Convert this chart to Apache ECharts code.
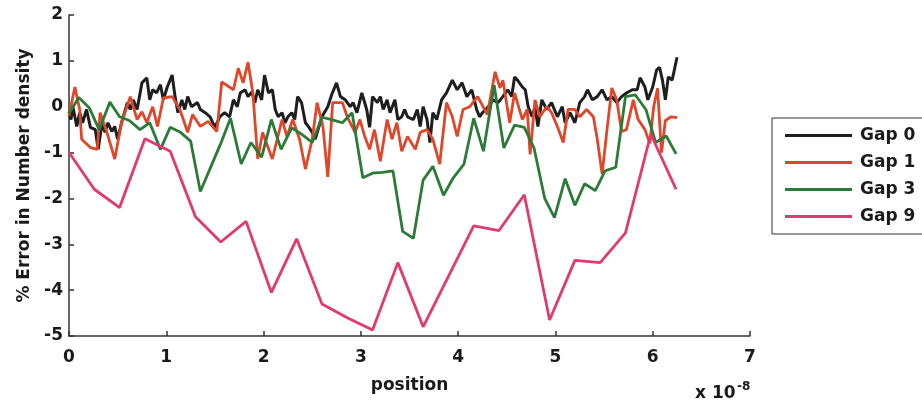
<!DOCTYPE html>
<html>
<head>
<meta charset="utf-8">
<script src="https://cdn.jsdelivr.net/npm/echarts@6/dist/echarts.min.js"></script>
<style>
  html, body { margin: 0; padding: 0; background: #fff; }
  #chart { width: 922px; height: 407px; }
</style>
</head>
<body>
<div id="chart"></div>
<script>
// positions in units of 1e-8
var gap0X = [0, 0.02, 0.04, 0.08, 0.11, 0.14, 0.18, 0.22, 0.27, 0.30,
  0.34, 0.37, 0.40, 0.44, 0.47, 0.50, 0.54, 0.60, 0.63, 0.66,
  0.70, 0.75, 0.80, 0.83, 0.86, 0.90, 0.94, 0.97, 1.01, 1.06,
  1.09, 1.12, 1.16, 1.19, 1.22, 1.26, 1.32, 1.35, 1.40, 1.45,
  1.50, 1.55, 1.60, 1.65, 1.69, 1.73, 1.76, 1.81, 1.84, 1.88,
  1.91, 1.94, 1.98, 2.01, 2.05, 2.09, 2.12, 2.15, 2.19, 2.22,
  2.25, 2.29, 2.32, 2.35, 2.39, 2.43, 2.46, 2.50, 2.53, 2.56,
  2.60, 2.66, 2.70, 2.75, 2.79, 2.84, 2.89, 2.92, 2.96, 3.01,
  3.06, 3.09, 3.12, 3.17, 3.20, 3.23, 3.27, 3.30, 3.35, 3.38,
  3.42, 3.45, 3.48, 3.54, 3.58, 3.61, 3.64, 3.68, 3.71, 3.74,
  3.78, 3.83, 3.88, 3.94, 3.99, 4.04, 4.09, 4.14, 4.19, 4.22,
  4.25, 4.31, 4.36, 4.41, 4.46, 4.51, 4.55, 4.58, 4.61, 4.66,
  4.69, 4.72, 4.76, 4.79, 4.82, 4.86, 4.91, 4.96, 5.02, 5.07,
  5.10, 5.15, 5.20, 5.25, 5.30, 5.33, 5.38, 5.43, 5.48, 5.53,
  5.58, 5.63, 5.68, 5.73, 5.79, 5.84, 5.87, 5.92, 5.95, 6.00,
  6.04, 6.07, 6.10, 6.13, 6.16, 6.20, 6.25];
var gap0Y = [-0.1, -0.28, 0, -0.43, -0.13, -0.35, -0.06, -0.45, -0.5, -0.93,
  -0.35, -0.56, -0.35, -0.54, -0.43, -0.71, -0.35, 0.09, -0.06, 0.15,
  -0.06, 0.52, 0.63, 0.15, 0.37, 0.30, 0.48, 0.15, 0.43, 0.69,
  0.22, -0.13, 0.15, -0.06, 0.22, 0, 0.09, -0.06, -0.13, -0.22,
  -0.45, -0.22, -0.13, -0.22, 0.15, 0, 0.30, 0.37, 0.22, 0.32,
  0.09, 0.37, 0.15, 0.69, 0.30, 0.37, -0.06, -0.22, -0.13, -0.35,
  -0.22, -0.13, -0.28, 0.22, 0.09, -0.35, -0.43, -0.56, -0.71, -0.50,
  -0.22, 0, 0.26, 0.52, 0.22, 0.15, 0, 0.09, -0.13, 0.30,
  -0.06, -0.45, 0.22, 0.09, 0.22, -0.06, 0.15, -0.13, 0.15, -0.28,
  -0.22, -0.06, -0.22, -0.28, -0.06, -0.43, 0, -0.28, -0.78, -0.13,
  -0.28, 0.15, 0.30, 0.58, 0.37, 0.52, 0.22, 0.37, -0.06, -0.22,
  -0.13, 0, 0.15, 0.09, 0.22, 0.37, 0.22, 0.65, 0.58, 0.43,
  0.37, 0, -0.22, 0, -0.43, 0.15, -0.06, 0.09, -0.22, 0,
  -0.35, -0.13, -0.35, 0.09, 0.22, 0.37, 0.15, 0.22, 0.37, 0.15,
  0.22, 0.09, 0.22, 0.30, 0.37, 0.37, 0.63, 0.43, 0.15, 0.43,
  0.80, 0.86, 0.58, 0.15, 0.65, 0.58, 1.08];

var gap1X = [0, 0.06, 0.11, 0.13, 0.22, 0.29, 0.32, 0.39, 0.47, 0.54,
  0.63, 0.70, 0.75, 0.80, 0.86, 0.91, 0.97, 1.06, 1.14, 1.22,
  1.27, 1.35, 1.43, 1.52, 1.57, 1.69, 1.74, 1.79, 1.84, 1.89,
  1.94, 1.99, 2.09, 2.14, 2.19, 2.24, 2.30, 2.37, 2.43, 2.50,
  2.55, 2.61, 2.66, 2.71, 2.81, 2.86, 2.94, 2.99, 3.04, 3.09,
  3.14, 3.20, 3.27, 3.32, 3.37, 3.42, 3.48, 3.56, 3.61, 3.68,
  3.74, 3.81, 3.88, 3.94, 3.99, 4.05, 4.12, 4.20, 4.30, 4.38,
  4.43, 4.46, 4.53, 4.58, 4.66, 4.71, 4.74, 4.79, 4.84, 4.91,
  4.96, 5.02, 5.08, 5.13, 5.20, 5.25, 5.32, 5.39, 5.43, 5.48,
  5.53, 5.58, 5.63, 5.68, 5.73, 5.80, 5.85, 5.92, 5.97, 6.01,
  6.05, 6.09, 6.13, 6.19, 6.25];
var gap1Y = [-0.2, 0.43, -0.06, -0.71, -0.89, -0.93, -0.13, -0.56, -1.14, -0.35,
  0.22, -0.28, -0.11, -0.35, 0, -0.43, 0.19, 0.22, -0.06, -0.56,
  -0.17, -0.43, -0.32, -0.54, 0.54, 0.37, 0.84, 0.52, 0.97, 0.30,
  -1.14, -0.56, -1.14, -0.71, -0.28, -0.65, -0.28, -0.71, -1.36, -0.71,
  0.09, -0.43, -1.53, 0.09, 0.09, -0.22, -0.56, -0.28, -0.65, -0.93,
  -0.50, -1.19, -0.28, -0.71, -0.35, -0.97, -0.65, -0.93, -0.56, -0.50,
  -0.71, -1.25, 0.09, -0.22, -0.65, -0.06, 0, 0.22, -0.17, 0.76,
  0.41, 0.58, -0.35, 0.30, -0.28, -0.06, -1.04, 0.15, -0.22, 0,
  -0.13, -0.43, -0.78, -0.06, -0.06, -0.22, -0.06, -0.22, -0.71, -1.47,
  -0.50, 0.41, 0.15, -0.54, -0.50, 0.15, -0.28, -0.50, -0.8, 0,
  0.4, -1.0, -0.3, -0.22, -0.24];

var gap3X = [0, 0.10, 0.21, 0.31, 0.42, 0.52, 0.62, 0.73, 0.83, 0.94,
  1.04, 1.14, 1.25, 1.35, 1.46, 1.56, 1.66, 1.77, 1.87, 1.98,
  2.08, 2.18, 2.29, 2.39, 2.50, 2.60, 2.70, 2.81, 2.91, 3.02,
  3.12, 3.22, 3.33, 3.43, 3.54, 3.64, 3.74, 3.85, 3.95, 4.06,
  4.16, 4.26, 4.37, 4.47, 4.58, 4.68, 4.78, 4.89, 4.99, 5.10,
  5.20, 5.30, 5.41, 5.51, 5.62, 5.72, 5.82, 5.93, 6.03, 6.14, 6.24];
var gap3Y = [-0.15, 0.2, -0.03, -0.5, 0.1, -0.22, -0.3, -0.5, -0.35, -0.93,
  -0.45, -0.55, -0.75, -1.85, -1.3, -0.8, -0.25, -1.25, -0.78, -1.1,
  -0.28, -0.93, -0.46, -0.6, -0.78, -0.23, -0.28, -0.35, -0.13, -1.55,
  -1.45, -1.43, -1.4, -2.72, -2.87, -1.6, -1.3, -1.93, -1.55, -1.25,
  -0.25, -0.97, 0.47, -0.9, -0.4, -0.45, -0.9, -2.0, -2.42, -1.57,
  -2.15, -1.68, -1.83, -1.4, -1.32, 0.22, 0.26, -0.06, -0.78, -0.64, -1.03];

var gap9X = [0, 0.26, 0.52, 0.78, 1.04, 1.30, 1.56, 1.82, 2.08, 2.34,
  2.60, 2.86, 3.12, 3.38, 3.64, 3.90, 4.16, 4.42, 4.68, 4.94,
  5.20, 5.46, 5.72, 5.98, 6.24];
var gap9Y = [-1.0, -1.8, -2.2, -0.7, -0.97, -2.4, -2.95, -2.5, -4.05, -2.88,
  -4.3, -4.6, -4.87, -3.4, -4.8, -3.7, -2.6, -2.7, -1.92, -4.65,
  -3.35, -3.4, -2.75, -0.6, -1.8];

var names = ["Gap 0", "Gap 1", "Gap 3", "Gap 9"];
var colors = ["#1e1e1e", "#e0472a", "#2c7a38", "#e23a6c"];

var FONT = "'DejaVu Sans', sans-serif";

function pairs(xs, ys) {
  return xs.map(function (x, i) { return [x, ys[i]]; });
}

var chart = echarts.init(document.getElementById("chart"));

var seriesData = [pairs(gap0X, gap0Y), pairs(gap1X, gap1Y), pairs(gap3X, gap3Y), pairs(gap9X, gap9Y)];
var series = [];
for (var i = 0; i < seriesData.length; i++) {
  series.push({
    name: names[i],
    type: "line",
    data: seriesData[i],
    symbol: "none",
    color: colors[i],
    lineStyle: { width: i === 0 ? 3 : 2.8, color: colors[i] },
    animation: false
  });
}

var axisText = { color: "#1a1a1a", fontFamily: FONT, fontWeight: "bold", fontSize: 17 };

chart.setOption({
  backgroundColor: "#fff",
  animation: false,
  grid: { left: 69, right: 172, top: 15, bottom: 71 },
  legend: {
    data: names,
    orient: "vertical",
    icon: "rect",
    left: 772,
    top: 118,
    padding: [9, 30, 9, 13],
    itemWidth: 67,
    itemHeight: 3,
    itemGap: 10,
    borderColor: "#333",
    borderWidth: 1,
    borderRadius: 0,
    textStyle: { color: "#1a1a1a", fontFamily: FONT, fontWeight: "bold", fontSize: 17, padding: [0, 0, 0, 3] }
  },
  xAxis: {
    type: "value",
    min: 0,
    max: 7,
    interval: 1,
    name: "position",
    nameLocation: "middle",
    nameGap: 41,
    nameTextStyle: axisText,
    axisLine: { show: true, onZero: false, lineStyle: { color: "#333", width: 1.5 } },
    axisTick: { show: true, inside: true, length: 5, lineStyle: { color: "#333", width: 1.5 } },
    axisLabel: { color: "#1a1a1a", fontFamily: FONT, fontWeight: "bold", fontSize: 17, margin: 13 },
    splitLine: { show: false }
  },
  yAxis: {
    type: "value",
    min: -5,
    max: 2,
    interval: 1,
    name: "% Error in Number density",
    nameLocation: "middle",
    nameRotate: 90,
    nameGap: 36,
    nameTextStyle: axisText,
    axisLine: { show: true, onZero: false, lineStyle: { color: "#333", width: 1.5 } },
    axisTick: { show: true, inside: true, length: 5, lineStyle: { color: "#333", width: 1.5 } },
    axisLabel: { color: "#1a1a1a", fontFamily: FONT, fontWeight: "bold", fontSize: 17, margin: 6 },
    splitLine: { show: false }
  },
  graphic: [
    { type: "text", left: 695, top: 385, style: { text: "x 10", fill: "#1a1a1a", font: "bold 17px " + FONT } },
    { type: "text", left: 737, top: 381, style: { text: "-8", fill: "#1a1a1a", font: "bold 12px " + FONT } }
  ],
  series: series
});
</script>
</body>
</html>
